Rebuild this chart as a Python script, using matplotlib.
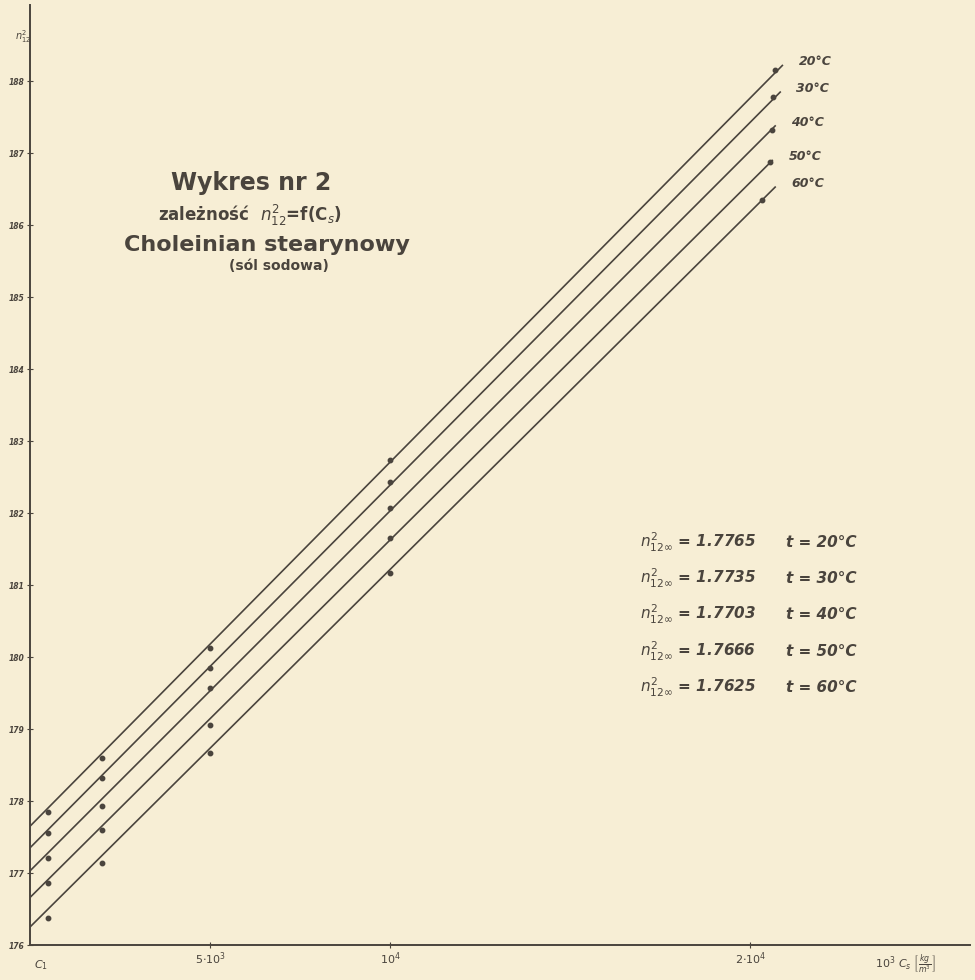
import matplotlib.pyplot as plt

# concentration of soap, kg/m3 (x) and n^2 values
temps = ['20°C', '30°C', '40°C', '50°C', '60°C']
n_inf = [1.7765, 1.7735, 1.7703, 1.7666, 1.7625]
n_inf_txt = ['1.7765', '1.7735', '1.7703', '1.7666', '1.7625']

c_points = [500, 2000, 5000, 10000]
n_points = [
    [1.7785, 1.7860, 1.8013, 1.8274],
    [1.7756, 1.7832, 1.7985, 1.8243],
    [1.7721, 1.7793, 1.7957, 1.8207],
    [1.7686, 1.7760, 1.7906, 1.8165],
    [1.7638, 1.7714, 1.7867, 1.8117],
]
c_last = [20690, 20640, 20610, 20560, 20330]
n_last = [1.8815, 1.8778, 1.8732, 1.8688, 1.8635]
c_end = [20890, 20830, 20690, 20610, 20690]
n_end = [1.8822, 1.8785, 1.8738, 1.8690, 1.8653]

y_ticks = [1.76, 1.77, 1.78, 1.79, 1.80, 1.81, 1.82, 1.83, 1.84, 1.85, 1.86, 1.87, 1.88]
y_labels = ['176', '177', '178', '179', '180', '181', '182', '183', '184', '185', '186', '187', '188']
x_ticks = [5000, 10000, 20000]
x_labels = [r'$5{\cdot}10^3$', r'$10^4$', r'$2{\cdot}10^4$']

paper = '#f7eed5'
ink = '#4a443d'

fig = plt.figure(figsize=(9.75, 9.8), dpi=100, facecolor=paper)
ax = fig.add_axes([30 / 975, 35 / 980, 940 / 975, 940 / 980])
ax.set_facecolor(paper)

for i in range(len(temps)):
    ax.plot([0, c_end[i]], [n_inf[i], n_end[i]], color=ink, lw=1.2)
    ax.plot(c_points + [c_last[i]], n_points[i] + [n_last[i]], ls='none',
            marker='o', ms=3.2, color=ink)
    ax.text(c_end[i] + 450, n_end[i] + 0.0005, temps[i], fontsize=9,
            style='italic', fontweight='bold', color=ink, va='center')

ax.set_xlim(0, 26100)
ax.set_ylim(1.76, 1.8906)
for s in ['top', 'right']:
    ax.spines[s].set_visible(False)
for s in ['left', 'bottom']:
    ax.spines[s].set_color(ink)
    ax.spines[s].set_linewidth(1.4)

ax.set_yticks(y_ticks)
ax.set_yticklabels(y_labels, fontsize=5.5, style='italic', fontweight='bold', color=ink)
ax.set_xticks(x_ticks)
ax.set_xticklabels(x_labels, fontsize=8, color=ink)
ax.tick_params(axis='both', direction='inout', length=4, width=0.8, color=ink, pad=2)

# axis captions
ax.text(-420, 1.8862, r'$n^2_{12}$', fontsize=7, fontweight='bold',
        color=ink, ha='left', va='center', clip_on=False)
ax.text(300, 1.7572, r'$C_1$', fontsize=8, color=ink, ha='center', va='center')
ax.text(24300, 1.7572, r'$10^3\ C_s\ \left[\frac{kg}{m^3}\right]$', fontsize=8,
        color=ink, ha='center', va='center')

# title block
ax.text(6140, 1.8658, 'Wykres nr 2', fontsize=17, fontweight='bold',
        color=ink, ha='center', va='center')
ax.text(6110, 1.8614, r'zależność  $n^2_{12}$=f(C$_s$)', fontsize=12,
        fontweight='bold', color=ink, ha='center', va='center')
ax.text(6580, 1.8572, 'Choleinian stearynowy', fontsize=16, fontweight='bold',
        color=ink, ha='center', va='center')
ax.text(6920, 1.8544, '(sól sodowa)', fontsize=10, fontweight='bold',
        color=ink, ha='center', va='center')

# limiting values table
row_y = [1.8159, 1.8109, 1.8059, 1.8008, 1.7958]
for i in range(len(temps)):
    ax.text(16950, row_y[i], r'$n^2_{12\infty}$ = ' + n_inf_txt[i], fontsize=11,
            style='italic', fontweight='bold', color=ink, va='center')
    ax.text(21000, row_y[i], 't = ' + temps[i], fontsize=11,
            style='italic', fontweight='bold', color=ink, va='center')

fig.savefig('out.png', dpi=100, facecolor=paper)
